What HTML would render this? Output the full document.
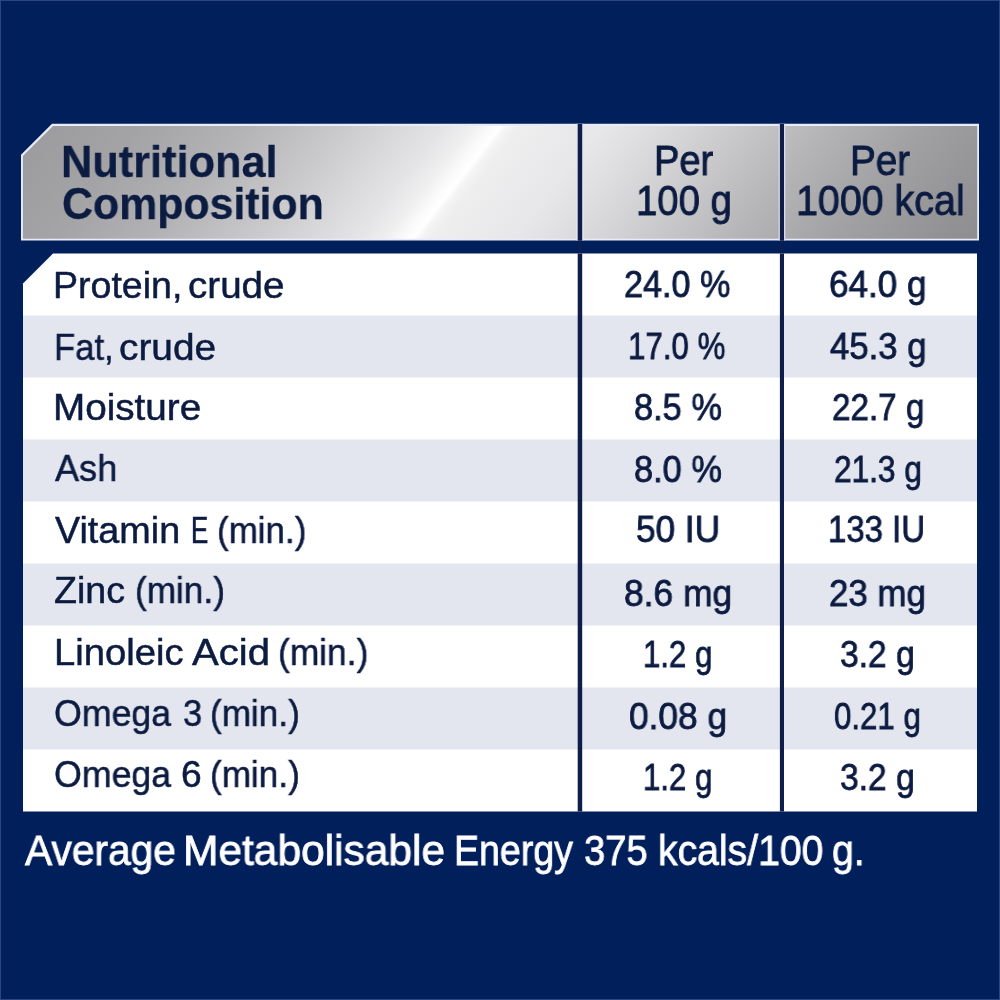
<!DOCTYPE html>
<html>
<head>
<meta charset="utf-8">
<title>Nutritional Composition</title>
<style>
html,body{margin:0;padding:0;}
body{width:1000px;height:1000px;overflow:hidden;background:#001f5b;font-family:"Liberation Sans",sans-serif;position:relative;}
#art{position:absolute;left:0;top:0;width:1000px;height:1000px;display:block;}
.t{position:absolute;white-space:nowrap;line-height:1;color:#0c1b40;transform-origin:0 0;will-change:transform;}
</style>
</head>
<body>
<svg id="art" width="1000" height="1000" viewBox="0 0 1000 1000">
  <defs>
    <linearGradient id="metal" gradientUnits="userSpaceOnUse" x1="176.3" y1="-70.8" x2="823.7" y2="435.2">
      <stop offset="0" stop-color="#9b9b9e"/>
      <stop offset="0.0425" stop-color="#9e9ea1"/>
      <stop offset="0.116" stop-color="#a4a4a7"/>
      <stop offset="0.212" stop-color="#b3b3b6"/>
      <stop offset="0.308" stop-color="#cacacc"/>
      <stop offset="0.337" stop-color="#d2d2d4"/>
      <stop offset="0.404" stop-color="#e4e4e6"/>
      <stop offset="0.432" stop-color="#efeff0"/>
      <stop offset="0.447" stop-color="#f9f9f9"/>
      <stop offset="0.4588" stop-color="#ffffff"/>
      <stop offset="0.466" stop-color="#f4f4f5"/>
      <stop offset="0.478" stop-color="#eeeeef"/>
      <stop offset="0.5575" stop-color="#e7e7e9"/>
      <stop offset="0.596" stop-color="#dfdfe1"/>
      <stop offset="0.692" stop-color="#c8c8cb"/>
      <stop offset="0.7685" stop-color="#b5b5b8"/>
      <stop offset="0.864" stop-color="#a1a1a4"/>
      <stop offset="0.957" stop-color="#939396"/>
      <stop offset="1" stop-color="#8e8e91"/>
    </linearGradient>
  </defs>
  <!-- page background + thin lighter edge -->
  <rect x="0" y="0" width="1000" height="1000" fill="#001f5b"/>
  <rect x="0.5" y="0.5" width="999" height="999" fill="none" stroke="#2f457f" stroke-width="1"/>
  <!-- header: light rim then metallic fill -->
  <polygon points="52,123.8 979,123.8 979,240.4 21,240.4 21,154.8" fill="#e9ecf8"/>
  <polygon points="53,126 977.2,126 977.2,238.8 22.9,238.8 22.9,156.1" fill="url(#metal)"/>
  <!-- header column dividers with light rims -->
  <rect x="576.3" y="123.8" width="7.3" height="116.6" fill="#e4e7f3"/>
  <rect x="577.7" y="123.8" width="4.5" height="116.6" fill="#0e1e48"/>
  <rect x="778.6" y="123.8" width="6.7" height="116.6" fill="#d9dcea"/>
  <rect x="779.9" y="123.8" width="4.1" height="116.6" fill="#0e1e48"/>
  <rect x="577.7" y="240.4" width="4.5" height="13.1" fill="#071f55"/>
  <rect x="779.9" y="240.4" width="4.1" height="13.1" fill="#071f55"/>
  <!-- body -->
  <polygon points="53,253.5 977,253.5 977,811.5 23,811.5 23,283.5" fill="#ffffff"/>
  <rect x="23" y="315.5" width="954" height="62" fill="#e3e6ee"/>
  <rect x="23" y="439.5" width="954" height="62" fill="#e3e6ee"/>
  <rect x="23" y="563.5" width="954" height="62" fill="#e3e6ee"/>
  <rect x="23" y="687.5" width="954" height="62" fill="#e3e6ee"/>
  <rect x="577.7" y="253.5" width="4.5" height="558" fill="#0e1e48"/>
  <rect x="779.9" y="253.5" width="4.1" height="558" fill="#0e1e48"/>
</svg>
<span class="t" style="left:61.3px;top:138.8px;font-size:45.0px;transform:scaleX(0.9626);font-weight:bold;-webkit-text-stroke:0.3px;">Nutritional</span>
<span class="t" style="left:61.6px;top:181.0px;font-size:45.0px;transform:scaleX(0.9520);font-weight:bold;-webkit-text-stroke:0.3px;">Composition</span>
<span class="t" style="left:654.1px;top:139.8px;font-size:42.0px;transform:scaleX(0.9065);-webkit-text-stroke:0.9px;">Per</span>
<span class="t" style="left:636.1px;top:180.0px;font-size:42.0px;transform:scaleX(0.9120);-webkit-text-stroke:0.9px;">100 g</span>
<span class="t" style="left:850.2px;top:139.8px;font-size:42.0px;transform:scaleX(0.9194);-webkit-text-stroke:0.9px;">Per</span>
<span class="t" style="left:796.0px;top:180.0px;font-size:42.0px;transform:scaleX(0.9383);-webkit-text-stroke:0.9px;">1000 kcal</span>
<span class="t" style="left:53.4px;top:267.0px;font-size:37.2px;transform:scaleX(1.0098);-webkit-text-stroke:0.5px;">Protein,</span>
<span class="t" style="left:188.2px;top:267.0px;font-size:37.2px;transform:scaleX(1.0374);-webkit-text-stroke:0.5px;">crude</span>
<span class="t" style="left:53.6px;top:328.5px;font-size:37.2px;transform:scaleX(0.9310);-webkit-text-stroke:0.5px;">Fat,</span>
<span class="t" style="left:119.0px;top:328.5px;font-size:37.2px;transform:scaleX(1.0440);-webkit-text-stroke:0.5px;">crude</span>
<span class="t" style="left:53.3px;top:389.3px;font-size:37.2px;transform:scaleX(1.0388);-webkit-text-stroke:0.5px;">Moisture</span>
<span class="t" style="left:54.6px;top:450.0px;font-size:37.2px;transform:scaleX(0.9710);-webkit-text-stroke:0.5px;">Ash</span>
<span class="t" style="left:55.4px;top:512.0px;font-size:37.2px;transform:scaleX(1.0148);-webkit-text-stroke:0.5px;">Vitamin</span>
<span class="t" style="left:190.5px;top:512.0px;font-size:37.2px;transform:scaleX(0.6952);-webkit-text-stroke:0.5px;">E</span>
<span class="t" style="left:217.3px;top:512.0px;font-size:37.2px;transform:scaleX(0.9407);-webkit-text-stroke:0.5px;">(min.)</span>
<span class="t" style="left:54.2px;top:572.2px;font-size:37.2px;transform:scaleX(1.0116);-webkit-text-stroke:0.5px;">Zinc</span>
<span class="t" style="left:134.5px;top:572.2px;font-size:37.2px;transform:scaleX(0.9462);-webkit-text-stroke:0.5px;">(min.)</span>
<span class="t" style="left:53.7px;top:633.8px;font-size:37.2px;transform:scaleX(1.0270);-webkit-text-stroke:0.5px;">Linoleic</span>
<span class="t" style="left:192.3px;top:633.8px;font-size:37.2px;transform:scaleX(1.0786);-webkit-text-stroke:0.5px;">Acid</span>
<span class="t" style="left:277.8px;top:633.8px;font-size:37.2px;transform:scaleX(0.9505);-webkit-text-stroke:0.5px;">(min.)</span>
<span class="t" style="left:54.4px;top:694.5px;font-size:37.2px;transform:scaleX(0.9603);-webkit-text-stroke:0.5px;">Omega</span>
<span class="t" style="left:182.5px;top:694.5px;font-size:37.2px;transform:scaleX(0.9263);-webkit-text-stroke:0.5px;">3</span>
<span class="t" style="left:210.3px;top:694.5px;font-size:37.2px;transform:scaleX(0.9451);-webkit-text-stroke:0.5px;">(min.)</span>
<span class="t" style="left:54.4px;top:756.0px;font-size:37.2px;transform:scaleX(0.9603);-webkit-text-stroke:0.5px;">Omega</span>
<span class="t" style="left:181.4px;top:756.0px;font-size:37.2px;transform:scaleX(0.9778);-webkit-text-stroke:0.5px;">6</span>
<span class="t" style="left:210.3px;top:756.0px;font-size:37.2px;transform:scaleX(0.9451);-webkit-text-stroke:0.5px;">(min.)</span>
<span class="t" style="left:624.3px;top:267.2px;font-size:36.4px;transform:scaleX(0.9384);-webkit-text-stroke:0.8px;">24.0 %</span>
<span class="t" style="left:628.2px;top:328.8px;font-size:36.4px;transform:scaleX(0.8595);-webkit-text-stroke:0.8px;">17.0 %</span>
<span class="t" style="left:633.9px;top:390.2px;font-size:36.4px;transform:scaleX(0.9451);-webkit-text-stroke:0.8px;">8.5 %</span>
<span class="t" style="left:633.9px;top:452.0px;font-size:36.4px;transform:scaleX(0.9451);-webkit-text-stroke:0.8px;">8.0 %</span>
<span class="t" style="left:635.8px;top:512.2px;font-size:36.4px;transform:scaleX(0.9667);-webkit-text-stroke:0.8px;">50 IU</span>
<span class="t" style="left:624.2px;top:575.8px;font-size:36.4px;transform:scaleX(0.9725);-webkit-text-stroke:0.8px;">8.6 mg</span>
<span class="t" style="left:643.3px;top:637.0px;font-size:36.4px;transform:scaleX(0.8571);-webkit-text-stroke:0.8px;">1.2 g</span>
<span class="t" style="left:629.0px;top:699.0px;font-size:36.4px;transform:scaleX(0.9697);-webkit-text-stroke:0.8px;">0.08 g</span>
<span class="t" style="left:643.3px;top:760.0px;font-size:36.4px;transform:scaleX(0.8571);-webkit-text-stroke:0.8px;">1.2 g</span>
<span class="t" style="left:829.4px;top:267.2px;font-size:36.4px;transform:scaleX(0.9636);-webkit-text-stroke:0.8px;">64.0 g</span>
<span class="t" style="left:830.4px;top:328.8px;font-size:36.4px;transform:scaleX(0.9540);-webkit-text-stroke:0.8px;">45.3 g</span>
<span class="t" style="left:831.9px;top:390.2px;font-size:36.4px;transform:scaleX(0.9131);-webkit-text-stroke:0.8px;">22.7 g</span>
<span class="t" style="left:833.9px;top:452.0px;font-size:36.4px;transform:scaleX(0.8687);-webkit-text-stroke:0.8px;">21.3 g</span>
<span class="t" style="left:828.2px;top:512.2px;font-size:36.4px;transform:scaleX(0.9049);-webkit-text-stroke:0.8px;">133 IU</span>
<span class="t" style="left:829.0px;top:575.8px;font-size:36.4px;transform:scaleX(0.9576);-webkit-text-stroke:0.8px;">23 mg</span>
<span class="t" style="left:840.1px;top:637.0px;font-size:36.4px;transform:scaleX(0.9231);-webkit-text-stroke:0.8px;">3.2 g</span>
<span class="t" style="left:834.1px;top:699.0px;font-size:36.4px;transform:scaleX(0.8586);-webkit-text-stroke:0.8px;">0.21 g</span>
<span class="t" style="left:840.1px;top:760.0px;font-size:36.4px;transform:scaleX(0.9231);-webkit-text-stroke:0.8px;">3.2 g</span>
<span class="t" style="left:25.0px;top:829.2px;font-size:42.8px;transform:scaleX(0.9516);color:#ffffff;-webkit-text-stroke:0.8px;">Average</span>
<span class="t" style="left:183.2px;top:829.0px;font-size:42.8px;transform:scaleX(0.9923);color:#ffffff;-webkit-text-stroke:0.8px;">Metabolisable</span>
<span class="t" style="left:454.1px;top:829.0px;font-size:42.8px;transform:scaleX(0.8767);color:#ffffff;-webkit-text-stroke:0.8px;">Energy</span>
<span class="t" style="left:584.3px;top:829.0px;font-size:42.8px;transform:scaleX(0.8928);color:#ffffff;-webkit-text-stroke:0.8px;">375</span>
<span class="t" style="left:658.2px;top:829.0px;font-size:42.8px;transform:scaleX(0.9146);color:#ffffff;-webkit-text-stroke:0.8px;">kcals/100</span>
<span class="t" style="left:832.1px;top:829.0px;font-size:42.8px;transform:scaleX(0.9194);color:#ffffff;-webkit-text-stroke:0.8px;">g.</span>
</body>
</html>
